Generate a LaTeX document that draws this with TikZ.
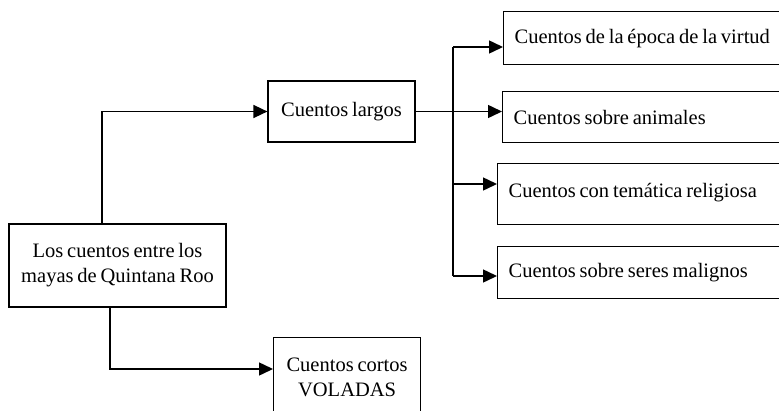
\documentclass[tikz,border=0pt]{standalone}
\usepackage{fontspec}
\setmainfont[WordSpace=0.75]{Liberation Serif}
\usetikzlibrary{arrows.meta}
\begin{document}
\begin{tikzpicture}[x=1pt,y=-1pt,
  box/.style={draw, line width=1.2pt, inner sep=0pt, font=\fontsize{20.5}{25}\selectfont},
  rbox/.style={box, minimum width=300pt, text width=278pt, align=flush left},
  conn/.style={line width=1.5pt, -{Triangle[length=14pt,width=13pt]}},
  plain/.style={line width=1.5pt}]
\useasboundingbox (0,0) rectangle (779,410);
\clip (0,0) rectangle (779,410);
\fill[white] (0,0) rectangle (779,410);
% boxes
\node[box, minimum width=217pt, minimum height=83pt, align=center] (main) at (117.5,265.5) {Los cuentos entre los\\mayas de Quintana Roo};
\node[box, minimum width=147pt, minimum height=61pt] (largos) at (341.5,111.5) {Cuentos largos};
\node[box, minimum width=147pt, minimum height=80pt, align=center, anchor=north west] (cortos) at (273,337) {Cuentos cortos\\VOLADAS};
\node[rbox, minimum height=53pt, anchor=north west] (b1) at (503,11) {\raisebox{-6pt}{Cuentos de la época de la virtud}};
\node[rbox, minimum height=51pt, anchor=north west] (b2) at (502,91) {Cuentos sobre animales};
\node[rbox, minimum height=61pt, anchor=north west] (b3) at (497,163) {\raisebox{7pt}{Cuentos con temática religiosa}};
\node[rbox, minimum height=52pt, anchor=north west] (b4) at (497,246) {\raisebox{-4pt}{Cuentos sobre seres malignos}};
% connectors
\coordinate (split) at (453,111.5);
\draw[conn] ([xshift=-15.5pt]main.north) |- (largos.west);
\draw[plain] (largos.east) -- (split);
\draw[plain] (453,47) -- (453,276);
\draw[conn] (split |- 0,47) -- (b1.west |- 0,47);
\draw[conn] (split) -- (b2.west |- split);
\draw[conn] (split |- 0,184) -- (b3.west |- 0,184);
\draw[conn] (split |- 0,276) -- (b4.west |- 0,276);
\draw[conn] ([xshift=-7.5pt]main.south) |- (cortos.west |- 0,369);
\end{tikzpicture}
\end{document}
